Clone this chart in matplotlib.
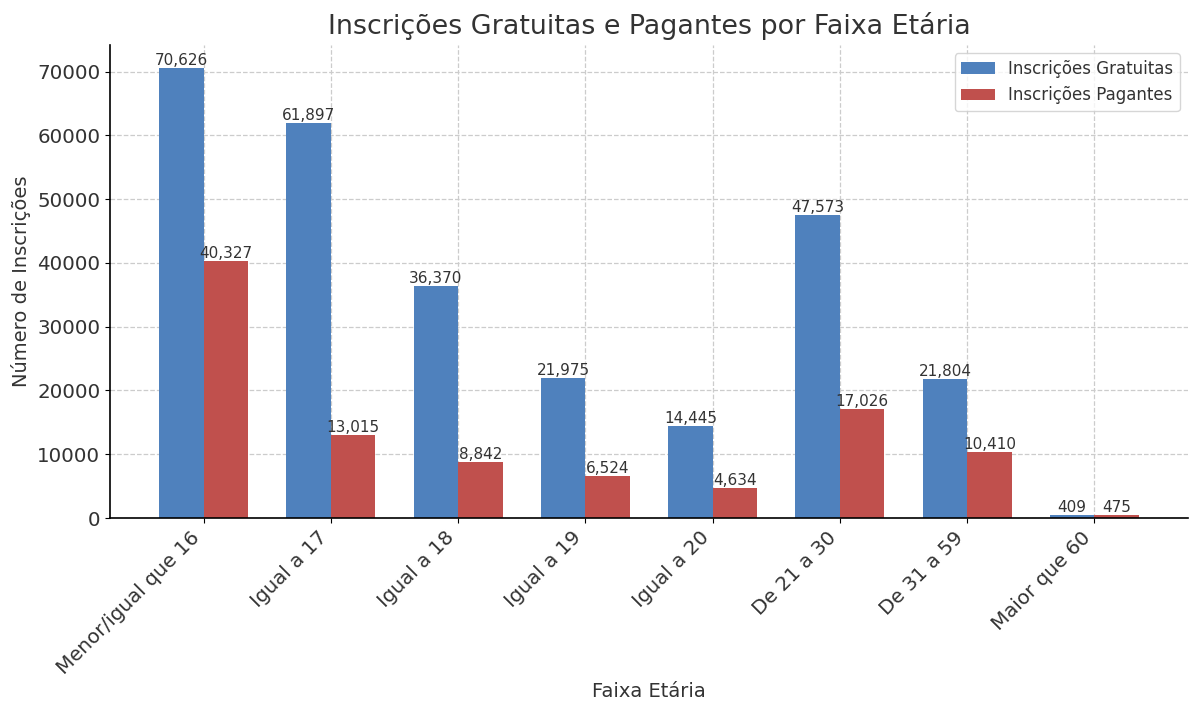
import matplotlib
matplotlib.use("Agg")
import matplotlib.pyplot as plt
import numpy as np

categories = ["Menor/igual que 16", "Igual a 17", "Igual a 18", "Igual a 19",
              "Igual a 20", "De 21 a 30", "De 31 a 59", "Maior que 60"]
gratuitas = [70626, 61897, 36370, 21975, 14445, 47573, 21804, 409]
pagantes = [40327, 13015, 8842, 6524, 4634, 17026, 10410, 475]

plt.rcParams['font.family'] = ['DejaVu Sans']
txt = '#333333'

fig = plt.figure(figsize=(12, 7.15), dpi=100)
ax = fig.add_axes([110/1200, 1-518/715, (1188-110)/1200, (518-45)/715])

x = np.arange(len(categories))
w = 0.35
b1 = ax.bar(x - w/2, gratuitas, w, color='#4F81BD', label='Inscrições Gratuitas')
b2 = ax.bar(x + w/2, pagantes, w, color='#C0504D', label='Inscrições Pagantes')

for bars in (b1, b2):
    for r in bars:
        h = r.get_height()
        ax.text(r.get_x() + r.get_width()/2, h, f"{h:,}", ha='center', va='bottom',
                fontsize=11, color=txt)

ax.set_xticks(x)
ax.set_xticklabels(categories, rotation=45, ha='right', fontsize=14.3, color=txt)
ax.tick_params(axis='y', labelsize=14.3, labelcolor=txt)
ax.set_xlabel('Faixa Etária', fontsize=14, color=txt, labelpad=3)
ax.set_ylabel('Número de Inscrições', fontsize=14, color=txt)
ax.set_title('Inscrições Gratuitas e Pagantes por Faixa Etária', fontsize=19.4, color=txt, pad=8)
ax.grid(True, linestyle='--', color='#cccccc', linewidth=0.9)
ax.set_axisbelow(True)
for s in ('top', 'right'):
    ax.spines[s].set_visible(False)
ax.spines['left'].set_linewidth(1.2)
ax.spines['bottom'].set_linewidth(1.2)
leg = ax.legend(fontsize=12, loc='upper right', frameon=True)
for t in leg.get_texts():
    t.set_color(txt)

fig.savefig('out.png', dpi=100)
